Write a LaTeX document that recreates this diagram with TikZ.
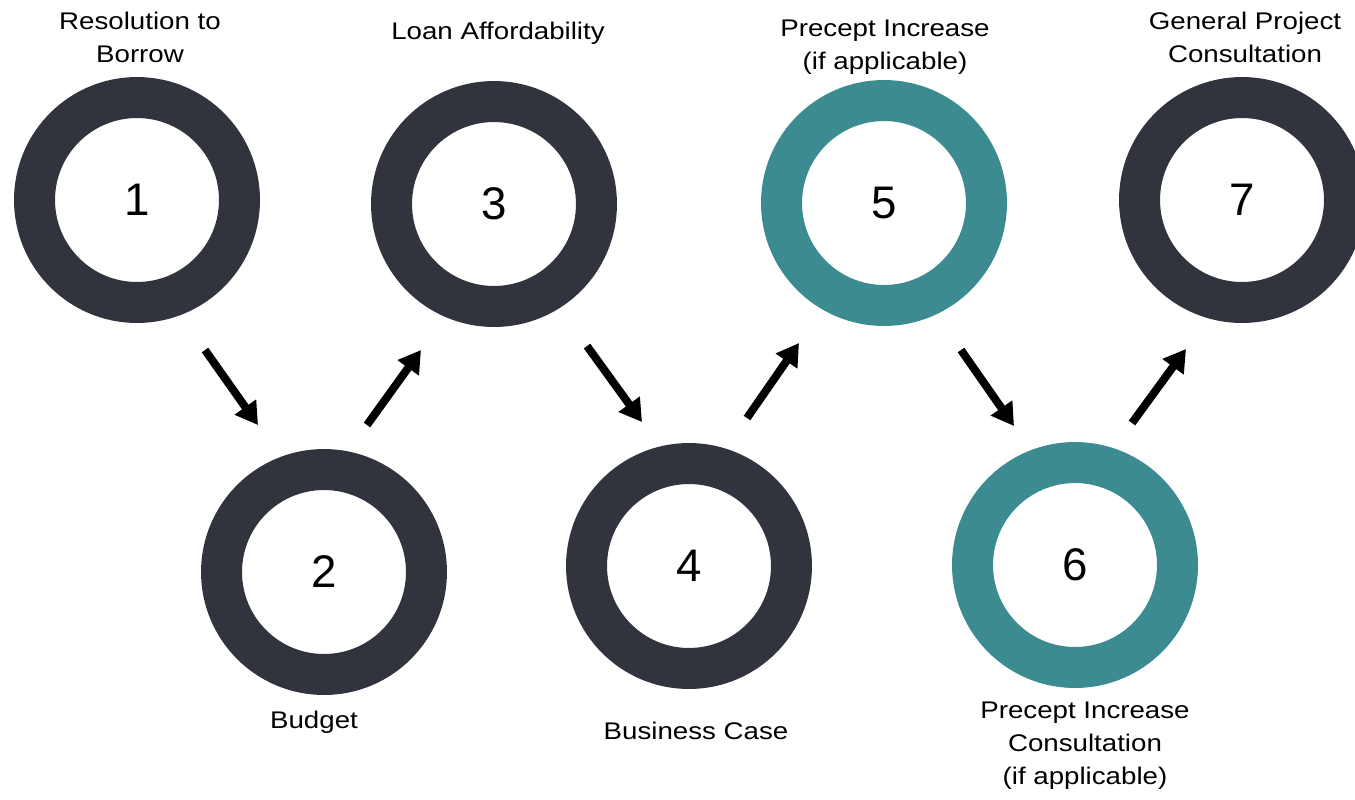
\documentclass[tikz,border=0pt]{standalone}
\usepackage{fontspec}
\setmainfont{Liberation Sans}
\newfontfamily\lblfont[FakeStretch=1.15]{Liberation Sans}
\usetikzlibrary{arrows.meta}
\definecolor{ringdark}{RGB}{49,52,61}
\definecolor{ringteal}{RGB}{59,139,144}
\begin{document}
\begin{tikzpicture}[x=0.02cm,y=-0.02cm,
	ring/.style={circle,draw=ringdark,line width=0.82cm,minimum size=4.1cm,inner sep=0pt,font=\fontsize{26}{26}\selectfont},
	tealring/.style={draw=ringteal},
	lbl/.style={align=center,font=\lblfont\fontsize{13.7}{18.8}\selectfont},
	flow/.style={line width=0.16cm,-{Triangle[length=0.44cm,width=0.5cm]}}]
	\useasboundingbox (0,0) rectangle (1355,799);
	% the seven steps
	\node[ring] (r1) at (137,200) {1};
	\node[ring] (r2) at (324,572) {2};
	\node[ring] (r3) at (494,204) {3};
	\node[ring] (r4) at (689,566) {4};
	\node[ring,tealring] (r5) at (884,203) {5};
	\node[ring,tealring] (r6) at (1075,565) {6};
	\node[ring] (r7) at (1242,200) {7};
	% labels
	\node[lbl] (t1) at (140,37) {Resolution to\\Borrow};
	\node[lbl] (t2) at (314,722) {Budget};
	\node[lbl] (t3) at (498,33) {Loan Affordability};
	\node[lbl] (t4) at (696,731) {Business Case};
	\node[lbl] (t5) at (885,47) {Precept Increase\\(if applicable)};
	\node[lbl] (t6) at (1085,746) {Precept Increase\\Consultation\\(if applicable)};
	\node[lbl] (t7) at (1245,37) {General Project\\Consultation};
	% arrows
	\draw[flow] ([shift={(68,150)}]r1.center) -- ([shift={(-66,-147)}]r2.center);
	\draw[flow] ([shift={(43,-147)}]r2.center) -- ([shift={(-73,146)}]r3.center);
	\draw[flow] ([shift={(93,142)}]r3.center) -- ([shift={(-47,-144)}]r4.center);
	\draw[flow] ([shift={(58,-148)}]r4.center) -- ([shift={(-85,140)}]r5.center);
	\draw[flow] ([shift={(77,147)}]r5.center) -- ([shift={(-61,-139)}]r6.center);
	\draw[flow] ([shift={(57,-142)}]r6.center) -- ([shift={(-56,149)}]r7.center);
\end{tikzpicture}
\end{document}
